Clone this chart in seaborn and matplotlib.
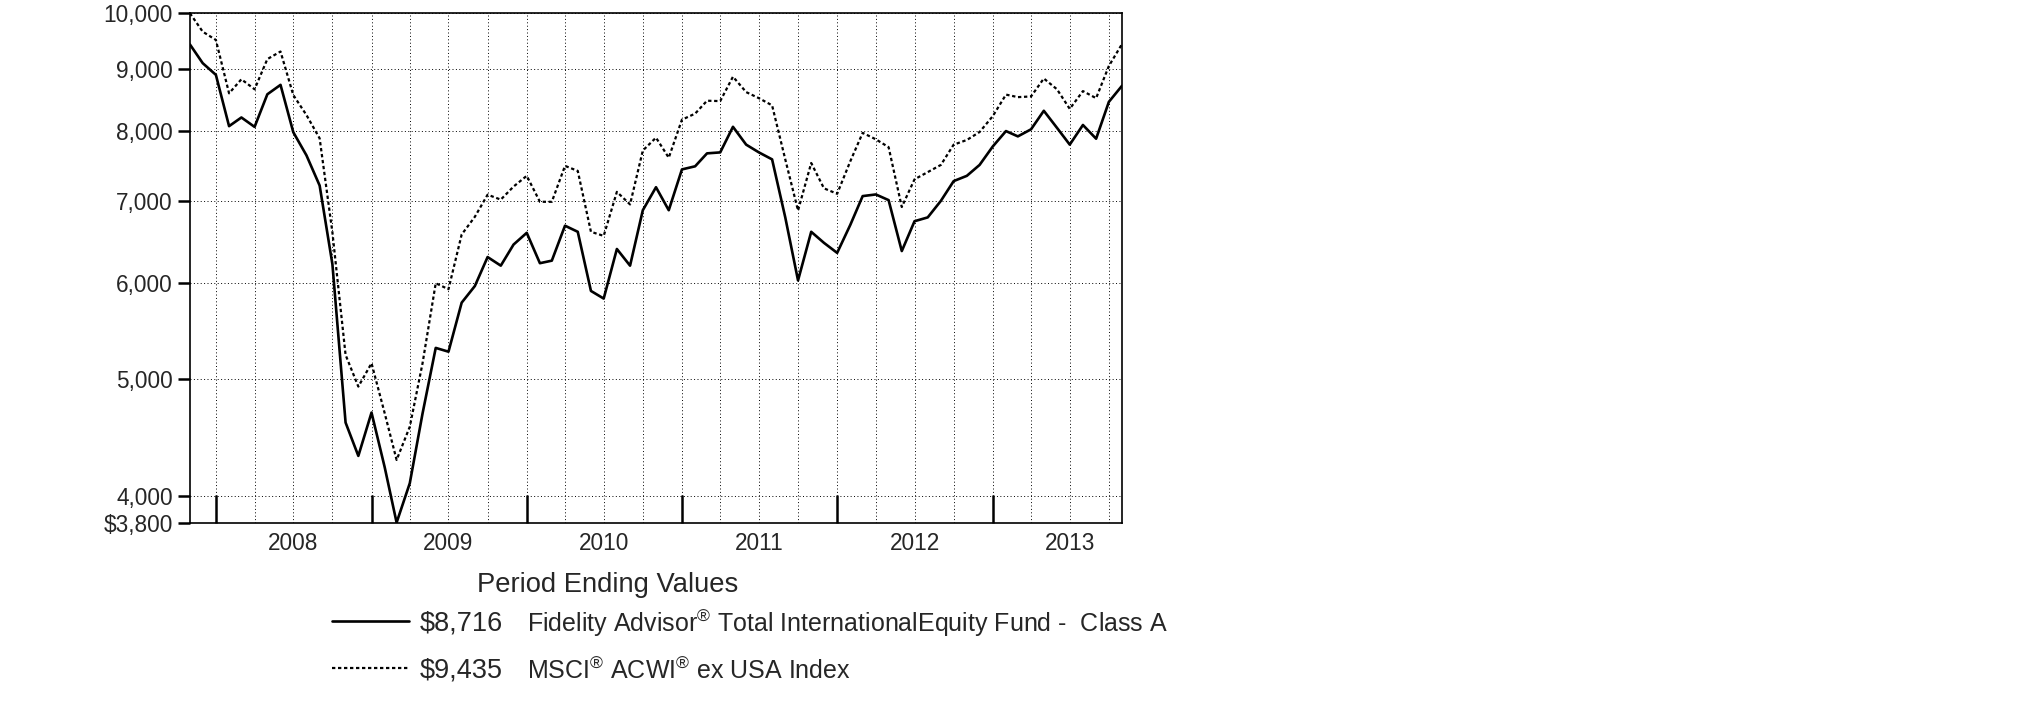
import pandas as pd
import seaborn as sns
import matplotlib.pyplot as plt
from matplotlib.ticker import NullLocator

# Global style
sns.set_style("white")
plt.rcParams["font.family"] = ["Liberation Sans", "DejaVu Sans"]
plt.rcParams["mathtext.fontset"] = "custom"
plt.rcParams["mathtext.rm"] = "Liberation Sans"
plt.rcParams["mathtext.default"] = "regular"

# Monthly growth of a $10,000 investment, Oct 2007 - Oct 2013
start_date = "2007-10-31"
fund_values = [
    9425, 9097, 8897, 8072, 8206, 8061, 8575, 8730, 7980, 7637, 7212, 6213,
    4600, 4318, 4688, 4226, 3805, 4100, 4680, 5300, 5262, 5775, 5960, 6297,
    6195, 6448, 6593, 6224, 6254, 6683, 6606, 5905, 5820, 6394, 6195, 6882,
    7189, 6882, 7436, 7480, 7666, 7680, 8062, 7794, 7680, 7579, 6789, 6024,
    6606, 6469, 6347, 6694, 7069, 7091, 7015, 6369, 6740, 6789, 7006, 7273,
    7346, 7500, 7767, 7997, 7917, 8024, 8311, 8046, 7794, 8090, 7882, 8453,
    8716,
]
index_values = [
    10000, 9657, 9506, 8591, 8823, 8657, 9167, 9300, 8563, 8244, 7887, 6600,
    5230, 4925, 5148, 4682, 4285, 4564, 5148, 5992, 5924, 6572, 6797, 7088,
    7022, 7198, 7346, 6993, 6993, 7486, 7415, 6606, 6555, 7126, 6958, 7707,
    7898, 7603, 8172, 8266, 8471, 8465, 8866, 8611, 8512, 8397, 7579, 6878,
    7527, 7174, 7100, 7553, 7970, 7873, 7757, 6924, 7298, 7398, 7500, 7794,
    7863, 7983, 8227, 8570, 8529, 8540, 8836, 8657, 8341, 8627, 8512, 9048,
    9435,
]
y_ticks = [3800, 4000, 5000, 6000, 7000, 8000, 9000, 10000]
y_tick_labels = ["$3,800", "4,000", "5,000", "6,000", "7,000", "8,000", "9,000", "10,000"]
ending_values = ["$8,716", "$9,435"]
series_names = [
    "Fidelity Advisor$^{®}$ Total InternationalEquity Fund -  Class A",
    "MSCI$^{®}$ ACWI$^{®}$ ex USA Index",
]
caption = "Period Ending Values"

dates = pd.date_range(start_date, periods=len(fund_values), freq="ME")
df = pd.DataFrame({"date": dates, "fund": fund_values, "index": index_values})

quarter_ends = [d for d in dates if d.month in (3, 6, 9, 12)]
quarter_labels = [str(d.year) if d.month == 6 else "" for d in quarter_ends]
year_ends = [d for d in dates if d.month == 12]

fig = plt.figure(figsize=(20.25, 7.17), dpi=100)
ax = fig.add_axes([0.0938, 0.2702, 0.4603, 0.7113])

sns.lineplot(data=df, x="date", y="fund", ax=ax, color="black", lw=1.9,
             errorbar=None)
sns.lineplot(data=df, x="date", y="index", ax=ax, color="black", lw=1.6,
             linestyle=(0, (1.5, 1.2)), errorbar=None)

# y axis: log scale
ax.set_yscale("log")
ax.set_ylim(3800, 10000)
ax.set_yticks(y_ticks)
ax.set_yticklabels(y_tick_labels)
ax.yaxis.set_minor_locator(NullLocator())
ax.tick_params(axis="y", which="major", left=True, direction="out", length=8.4,
               width=1.8, labelsize=16.3, pad=4, color="black")

# x axis: quarterly grid, year-end marks, year labels mid-year
ax.set_xlim(dates[0], dates[-1])
ax.set_xticks(quarter_ends, labels=quarter_labels)
ax.set_xticks(year_ends, minor=True)
ax.xaxis.remove_overlapping_locs = False
ax.tick_params(axis="x", which="major", bottom=True, length=0, labelsize=16.3,
               pad=6)
ax.tick_params(axis="x", which="minor", bottom=True, direction="in", length=20,
               width=1.8, color="black")

ax.grid(True, which="major", axis="both", color="black", lw=0.7,
        linestyle=(0, (1, 2.5)))
ax.set_axisbelow(True)
ax.set_xlabel("")
ax.set_ylabel("")
for spine in ax.spines.values():
    spine.set_color("black")
    spine.set_linewidth(1.2)

fig.text(0.3002, 0.1743, caption, ha="center", va="baseline", fontsize=19.7)

fig.legend(handles=ax.lines[:2], labels=ending_values, loc="center left",
           bbox_to_anchor=(331.7 / 2025, 0.0975), frameon=False, fontsize=19.5,
           handlelength=2.84, handletextpad=0.4, labelspacing=0.77,
           borderpad=0, borderaxespad=0)
for name, y in zip(series_names, [0.1181, 0.0530]):
    fig.text(0.2604, y, name, ha="left", va="baseline", fontsize=18)

fig.savefig("out.png", dpi=100)
